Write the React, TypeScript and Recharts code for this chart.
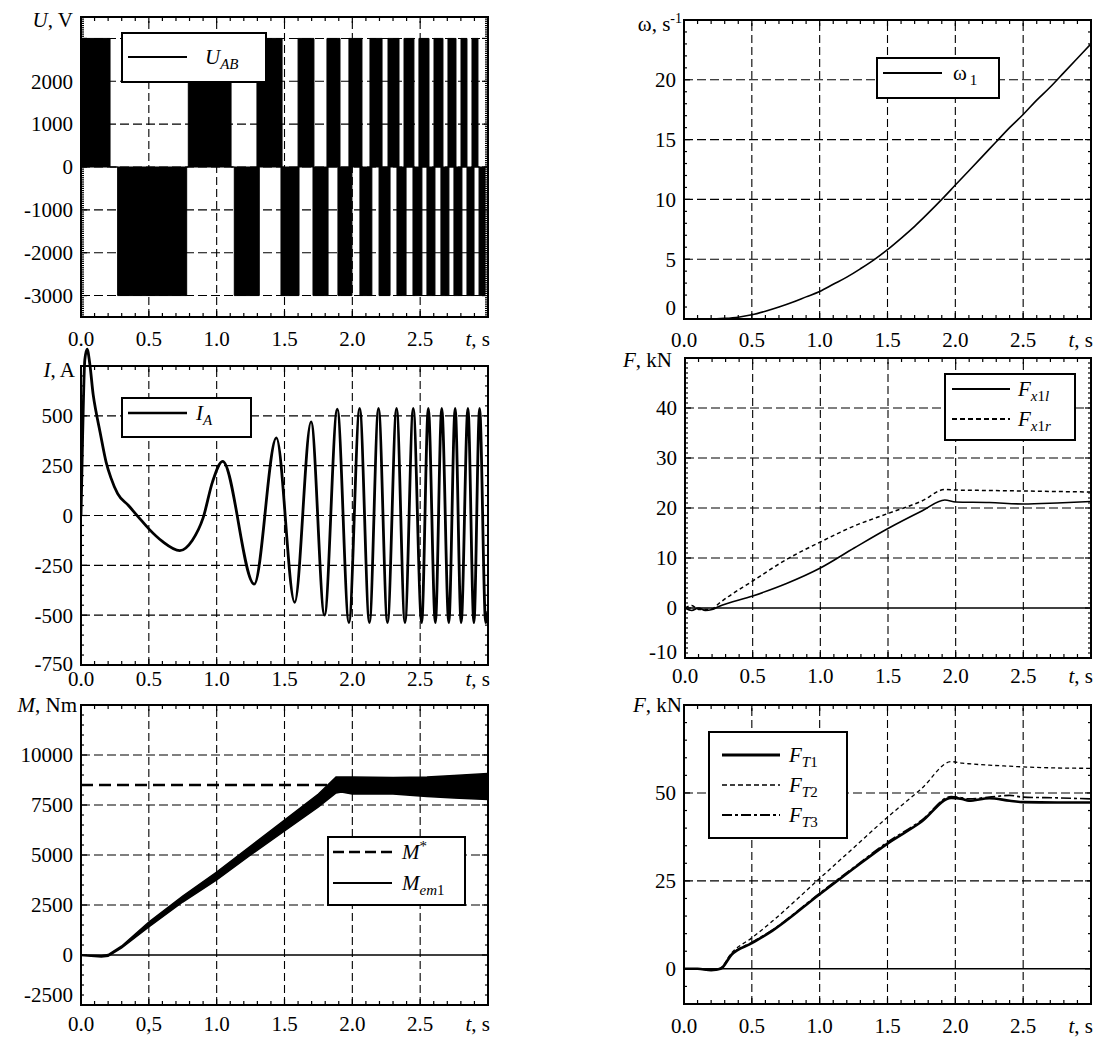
import React from "react";
import {
  ComposedChart, Line, Area, XAxis, YAxis, ReferenceLine, ReferenceArea, Legend,
} from "recharts";

const FONT = "Liberation Serif, Times New Roman, serif";
const FS = 21;
const SUB = 15;

// time axis
const xTicks = Array.from({ length: 31 }, (_, i) => i / 10);
const xGrid = [0.5, 1.0, 1.5, 2.0, 2.5];
const xLabelsDot = ["0.0", "0.5", "1.0", "1.5", "2.0", "2.5"];
const xLabelsComma = ["0.0", "0,5", "1.0", "1.5", "2.0", "2.5"];

// U_AB, switching intervals (s) at +3000 V and -3000 V
const uLevel = 3000;
const uPosBars = [
  [0, 0.214], [0.791, 1.106], [1.297, 1.482], [1.6, 1.717], [1.813, 1.909], [1.975, 2.071],
  [2.13, 2.219], [2.263, 2.344], [2.381, 2.454], [2.491, 2.565], [2.602, 2.668], [2.705, 2.764],
  [2.801, 2.845], [2.882, 2.926],
];
const uNegBars = [
  [0.27, 0.779], [1.13, 1.314], [1.474, 1.607], [1.71, 1.821], [1.894, 1.997], [2.056, 2.144],
  [2.197, 2.278], [2.329, 2.396], [2.447, 2.513], [2.55, 2.609], [2.653, 2.712], [2.749, 2.808],
  [2.845, 2.897], [2.934, 2.978],
];

// omega_1
const wT = [0, 0.2, 0.3, 0.4, 0.5, 0.6, 0.7, 0.8, 0.9, 1.0, 1.1, 1.2, 1.3, 1.4, 1.5, 1.6, 1.7, 1.8, 1.9, 2.0, 2.1, 2.2, 2.3, 2.4, 2.5, 2.6, 2.7, 2.8, 2.9, 3.0];
const wV = [0, 0, 0.05, 0.15, 0.35, 0.65, 1.0, 1.4, 1.85, 2.3, 2.9, 3.5, 4.2, 4.95, 5.8, 6.75, 7.75, 8.85, 10.0, 11.2, 12.4, 13.6, 14.8, 16.0, 17.1, 18.3, 19.4, 20.6, 21.8, 23.0];

// I_A
const iT = [0, 0.012, 0.028, 0.045, 0.065, 0.09, 0.111, 0.14, 0.185, 0.22, 0.27, 0.35, 0.43, 0.5, 0.6, 0.728, 0.82, 0.9, 0.97, 1.044,
  1.277, 1.44, 1.575, 1.696, 1.795, 1.889, 1.975, 2.054, 2.126, 2.193, 2.259, 2.326, 2.388, 2.449, 2.511, 2.56, 2.612, 2.659,
  2.711, 2.758, 2.802, 2.852, 2.896, 2.938, 2.983, 3.0];
const iV = [0, 400, 780, 835, 760, 605, 520, 420, 268, 190, 110, 50, -13, -67, -130, -176, -125, -12, 170, 272,
  -344, 389, -436, 470, -500, 533, -537, 537, -537, 537, -537, 537, -537, 537, -537, 537, -537, 537,
  -537, 537, -537, 537, -537, 537, -537, -480];

// F_x1l, F_x1r (kN)
const fxT = [0, 0.05, 0.1, 0.15, 0.2, 0.25, 0.5, 0.75, 1.0, 1.25, 1.5, 1.75, 1.92, 2.0, 2.25, 2.5, 2.75, 3.0];
const fxL = [0, -0.5, 0, -0.5, -0.3, 0.3, 2.4, 4.9, 8.0, 12.0, 15.9, 19.4, 21.6, 21.2, 21.1, 20.8, 21.0, 21.3];
const fxR = [0, 0.5, -0.3, -0.3, -0.2, 0.9, 5.4, 9.7, 13.2, 16.4, 18.9, 21.4, 23.7, 23.6, 23.5, 23.4, 23.3, 23.2];

// M_em1 envelope (Nm) and M*
const mT = [0, 0.1, 0.15, 0.2, 0.3, 0.5, 0.75, 1.0, 1.25, 1.5, 1.75, 1.88, 1.92, 2.0, 2.3, 2.55, 2.75, 3.0];
const mLow = [-30, -80, -100, -60, 350, 1400, 2650, 3750, 5000, 6200, 7400, 8100, 8150, 8050, 8050, 7920, 7850, 7780];
const mHigh = [0, -20, -40, 20, 450, 1650, 2950, 4150, 5450, 6750, 8050, 8900, 8900, 8900, 8880, 8900, 8980, 9080];
const mStar = 8500;

// F_T1, F_T2, F_T3 (kN)
const ftT = [0, 0.1, 0.2, 0.27, 0.35, 0.5, 0.65, 1.0, 1.25, 1.5, 1.75, 1.97, 2.05, 2.1, 2.25, 2.4, 2.5, 2.75, 3.0];
const ft1 = [0, 0, -0.4, 0, 4.0, 7.3, 10.8, 21.2, 28.5, 35.6, 41.8, 48.6, 48.3, 47.8, 48.5, 47.8, 47.4, 47.3, 47.3];
const ft2 = [0, 0, -0.4, 0.3, 4.5, 8.8, 13.5, 25.7, 34.4, 43.1, 51.2, 58.9, 58.5, 58.3, 57.9, 57.6, 57.4, 57.1, 57.0];
const ft3 = [0, 0, -0.4, 0, 4.1, 7.5, 11.0, 21.5, 28.8, 36.0, 42.2, 49.0, 48.6, 48.3, 48.8, 49.3, 48.8, 48.6, 48.3];

const stepRows = (bars: number[][], level: number) => {
  const rows = [{ t: 0, v: 0 }];
  bars.forEach(([a, b]) => {
    rows.push({ t: a, v: level });
    rows.push({ t: b, v: 0 });
  });
  rows.push({ t: 3, v: 0 });
  return rows;
};
const uPosData = stepRows(uPosBars, uLevel);
const uNegData = stepRows(uNegBars, -uLevel);
const wData = wT.map((t, i) => ({ t, v: wV[i] }));
const iData = iT.map((t, i) => ({ t, v: iV[i] }));
const fxData = fxT.map((t, i) => ({ t, l: fxL[i], r: fxR[i] }));
const mData = mT.map((t, i) => ({ t, band: [mLow[i], mHigh[i]] }));
const mStarData = [{ t: 0, v: mStar }, { t: 3, v: mStar }];
const ftData = ftT.map((t, i) => ({ t, a: ft1[i], b: ft2[i], c: ft3[i] }));

type Row = { y: number; label: React.ReactNode; dash?: string; sw: number };
type LegendCfg = { x: number; y: number; w: number; h: number; lx0: number; lx1: number; tx: number; rows: Row[] };

function LegendBox({ cfg }: { cfg: LegendCfg }) {
  return (
    <svg width={cfg.w} height={cfg.h} style={{ display: "block" }}>
      <rect x={1} y={1} width={cfg.w - 2} height={cfg.h - 2} fill="#fff" stroke="#000" strokeWidth={2} />
      {cfg.rows.map((r, i) => (
        <g key={i}>
          <line x1={cfg.lx0} x2={cfg.lx1} y1={r.y} y2={r.y} stroke="#000" strokeWidth={r.sw} strokeDasharray={r.dash} />
          <text x={cfg.tx} y={r.y + 7} fontFamily={FONT} fontSize={FS} fill="#000">{r.label}</text>
        </g>
      ))}
    </svg>
  );
}

type PanelProps = {
  left: number; top: number; width: number; height: number;
  frame: [number, number, number, number];
  yMin: number; yTop: number; yMax?: number; yStep: number;
  yMajor: number[]; yGrid: number[]; yLabelVals: number[]; yLabelTexts: string[];
  bottomShift?: number; zeroLine?: boolean;
  xLabels: string[]; xOff: number;
  title: React.ReactNode; titleDx: number; titleDy: number;
  legend: LegendCfg;
  children?: React.ReactNode;
};

function Panel(p: PanelProps) {
  const [fx0, fy0, fx1, fy1] = p.frame;
  const yMax = p.yMax ?? p.yTop;
  const ppu = (fy1 - fy0) / (p.yTop - p.yMin);
  const plotTop = fy0 - (yMax - p.yTop) * ppu;
  const XH = 30;
  const margin = { top: plotTop - p.top, right: p.left + p.width - fx1, bottom: p.top + p.height - fy1 - XH, left: 0 };
  const fw = fx1 - fx0;
  const fh = fy1 - fy0;
  const yTicks: number[] = [];
  for (let v = p.yMin; v <= p.yTop + 1e-9; v += p.yStep) yTicks.push(v);

  const xTick = (props: any) => {
    const { x, y, payload } = props;
    const k = Math.round(payload.value * 10);
    const major = k % 5 === 0;
    const len = major ? 6 : 4;
    const edge = k === 0 || k === 30;
    const ty = y + p.xOff;
    return (
      <g>
        {!edge && <line x1={x} x2={x} y1={y} y2={y - len} stroke="#000" strokeWidth={1.2} />}
        {!edge && <line x1={x} x2={x} y1={y - fh} y2={y - fh + len} stroke="#000" strokeWidth={1.2} />}
        {major && k < 30 && (
          <text x={x} y={ty} dy="0.35em" textAnchor="middle" fontFamily={FONT} fontSize={FS} fill="#000">{p.xLabels[k / 5]}</text>
        )}
        {k === 30 && (
          <text x={x + 2} y={ty} dy="0.35em" textAnchor="end" fontFamily={FONT} fontSize={FS} fill="#000">
            <tspan fontStyle="italic">t</tspan>, s
          </text>
        )}
      </g>
    );
  };

  const yTick = (props: any) => {
    const { x, y, payload } = props;
    const v = payload.value;
    const major = p.yMajor.includes(v);
    const len = major ? 6 : 3;
    const edge = v === p.yMin || v === p.yTop;
    const li = p.yLabelVals.indexOf(v);
    return (
      <g>
        {!edge && <line x1={x} x2={x + len} y1={y} y2={y} stroke="#000" strokeWidth={1.2} />}
        {!edge && <line x1={x + fw - len} x2={x + fw} y1={y} y2={y} stroke="#000" strokeWidth={1.2} />}
        {li >= 0 && (
          <text x={x - 8} y={y + (v === p.yMin ? p.bottomShift ?? 0 : 0)} dy="0.35em" textAnchor="end" fontFamily={FONT} fontSize={FS} fill="#000">
            {p.yLabelTexts[li]}
          </text>
        )}
        {v === p.yTop && (
          <text x={x + p.titleDx} y={y + p.titleDy} dy="0.35em" textAnchor="end" fontFamily={FONT} fontSize={FS} fill="#000">
            {p.title}
          </text>
        )}
      </g>
    );
  };

  const lg = p.legend;
  return (
    <div style={{ position: "absolute", left: p.left, top: p.top }}>
      <ComposedChart width={p.width} height={p.height} margin={margin}>
        <XAxis dataKey="t" type="number" domain={[0, 3]} ticks={xTicks} interval={0} tick={xTick}
          tickLine={false} axisLine={false} tickSize={0} tickMargin={0} height={XH} allowDataOverflow />
        <YAxis type="number" domain={[p.yMin, yMax]} ticks={yTicks} interval={0} tick={yTick}
          tickLine={false} axisLine={false} tickSize={0} tickMargin={0} width={fx0 - p.left} allowDataOverflow />
        {xGrid.map((x) => (
          <ReferenceLine key={"gx" + x} segment={[{ x, y: p.yMin }, { x, y: p.yTop }]}
            stroke="#000" strokeWidth={1.1} strokeDasharray="8 4" />
        ))}
        {p.yGrid.map((y) => (
          <ReferenceLine key={"gy" + y} segment={[{ x: 0, y }, { x: 3, y }]}
            stroke="#000" strokeWidth={1.1} strokeDasharray="9 4" />
        ))}
        {p.zeroLine && <ReferenceLine y={0} stroke="#000" strokeWidth={1.5} />}
        {p.children}
        <ReferenceArea x1={0} x2={3} y1={p.yMin} y2={p.yTop} fill="none" fillOpacity={0} stroke="#000" strokeWidth={2} />
        <Legend layout="vertical" align="center" verticalAlign="middle"
          content={() => <LegendBox cfg={lg} />}
          wrapperStyle={{ left: lg.x - p.left, top: lg.y - p.top, width: lg.w, height: lg.h }} />
      </ComposedChart>
    </div>
  );
}

const it = (s: string) => <tspan fontStyle="italic">{s}</tspan>;

export default function App() {
  return (
    <div style={{ position: "absolute", left: 0, top: 0, width: 1103, height: 1039, background: "#fff" }}>
      {/* U_AB */}
      <Panel left={0} top={0} width={500} height={360} frame={[81, 17, 488, 317]}
        yMin={-3500} yTop={3500} yStep={50}
        yMajor={[-3000, -2000, -1000, 0, 1000, 2000, 3000]}
        yGrid={[-3000, -2000, -1000, 0, 1000, 2000, 3000]}
        yLabelVals={[-3000, -2000, -1000, 0, 1000, 2000]}
        yLabelTexts={["-3000", "-2000", "-1000", "0", "1000", "2000"]}
        xLabels={xLabelsDot} xOff={22}
        title={<>{it("U")}, V</>} titleDx={-8} titleDy={3}
        legend={{ x: 121, y: 32, w: 146, h: 51, lx0: 7, lx1: 66, tx: 84,
          rows: [{ y: 25, sw: 2, label: <>{it("U")}<tspan fontStyle="italic" fontSize={SUB} dy={5}>AB</tspan></> }] }}>
        <Area data={uPosData} dataKey="v" type="stepAfter" baseValue={0} stroke="#000" strokeWidth={1} fill="#000"
          fillOpacity={1} dot={false} activeDot={false} isAnimationActive={false} />
        <Area data={uNegData} dataKey="v" type="stepAfter" baseValue={0} stroke="#000" strokeWidth={1} fill="#000"
          fillOpacity={1} dot={false} activeDot={false} isAnimationActive={false} />
      </Panel>

      {/* omega */}
      <Panel left={560} top={0} width={543} height={360} frame={[684, 20, 1091, 319]}
        yMin={0} yTop={25} yStep={1}
        yMajor={[0, 5, 10, 15, 20]} yGrid={[5, 10, 15, 20]}
        yLabelVals={[0, 5, 10, 15, 20]} yLabelTexts={["0", "5", "10", "15", "20"]} bottomShift={-11}
        xLabels={xLabelsDot} xOff={21}
        title={<>ω, s<tspan fontSize={14} dy={-8}>-1</tspan></>} titleDx={-2} titleDy={4}
        legend={{ x: 876, y: 57, w: 124, h: 42, lx0: 7, lx1: 66, tx: 77,
          rows: [{ y: 16, sw: 2, label: <>ω<tspan fontSize={SUB} dy={5} dx={3}>1</tspan></> }] }}>
        <Line data={wData} dataKey="v" type="monotone" stroke="#000" strokeWidth={1.6} dot={false} activeDot={false}
          isAnimationActive={false} />
      </Panel>

      {/* I_A */}
      <Panel left={0} top={335} width={500} height={365} frame={[81, 366, 488, 665]}
        yMin={-750} yTop={750} yMax={850} yStep={50}
        yMajor={[-750, -500, -250, 0, 250, 500, 750]} yGrid={[-500, -250, 0, 250, 500]}
        yLabelVals={[-750, -500, -250, 0, 250, 500]}
        yLabelTexts={["-750", "-500", "-250", "0", "250", "500"]} bottomShift={-1}
        xLabels={xLabelsDot} xOff={14}
        title={<>{it("I")}, A</>} titleDx={-6} titleDy={4}
        legend={{ x: 121, y: 397, w: 131, h: 41, lx0: 7, lx1: 66, tx: 75,
          rows: [{ y: 16, sw: 2.5, label: <>{it("I")}<tspan fontStyle="italic" fontSize={SUB} dy={5}>A</tspan></> }] }}>
        <Line data={iData} dataKey="v" type="monotone" stroke="#000" strokeWidth={2.8} dot={false} activeDot={false}
          isAnimationActive={false} />
      </Panel>

      {/* F_x1 */}
      <Panel left={560} top={335} width={543} height={365} frame={[685, 358, 1091, 658]}
        yMin={-10} yTop={50} yStep={1}
        yMajor={[-10, 0, 10, 20, 30, 40, 50]} yGrid={[10, 20, 30, 40]}
        yLabelVals={[-10, 0, 10, 20, 30, 40]} yLabelTexts={["-10", "0", "10", "20", "30", "40"]} bottomShift={-6}
        zeroLine xLabels={xLabelsDot} xOff={18}
        title={<>{it("F")}, kN</>} titleDx={-13} titleDy={2}
        legend={{ x: 944, y: 373, w: 132, h: 68, lx0: 8, lx1: 66, tx: 74,
          rows: [
            { y: 16, sw: 2, label: <>{it("F")}<tspan fontSize={SUB} dy={5}><tspan fontStyle="italic">x</tspan>1<tspan fontStyle="italic">l</tspan></tspan></> },
            { y: 46, sw: 2, dash: "5 3", label: <>{it("F")}<tspan fontSize={SUB} dy={5}><tspan fontStyle="italic">x</tspan>1<tspan fontStyle="italic">r</tspan></tspan></> },
          ] }}>
        <Line data={fxData} dataKey="r" type="monotone" stroke="#000" strokeWidth={1.5} strokeDasharray="4 3" dot={false}
          activeDot={false} isAnimationActive={false} />
        <Line data={fxData} dataKey="l" type="monotone" stroke="#000" strokeWidth={1.6} dot={false} activeDot={false}
          isAnimationActive={false} />
      </Panel>

      {/* M */}
      <Panel left={0} top={690} width={500} height={349} frame={[81, 705, 488, 1005]}
        yMin={-2500} yTop={12500} yStep={500}
        yMajor={[-2500, 0, 2500, 5000, 7500, 10000, 12500]} yGrid={[2500, 5000, 7500, 10000]}
        yLabelVals={[-2500, 0, 2500, 5000, 7500, 10000]}
        yLabelTexts={["-2500", "0", "2500", "5000", "7500", "10000"]} bottomShift={-10}
        zeroLine xLabels={xLabelsComma} xOff={19}
        title={<>{it("M")}, Nm</>} titleDx={-4} titleDy={0}
        legend={{ x: 327, y: 836, w: 139, h: 70, lx0: 6, lx1: 65, tx: 75,
          rows: [
            { y: 16, sw: 2.5, dash: "11 5", label: <>{it("M")}<tspan fontSize={SUB} dy={-8}>*</tspan></> },
            { y: 47, sw: 2, label: <>{it("M")}<tspan fontSize={SUB} dy={5}><tspan fontStyle="italic">em</tspan>1</tspan></> },
          ] }}>
        <Line data={mStarData} dataKey="v" type="linear" stroke="#000" strokeWidth={2.4} strokeDasharray="12 6" dot={false}
          activeDot={false} isAnimationActive={false} />
        <Area data={mData} dataKey="band" type="linear" stroke="#000" strokeWidth={1.5} fill="#000" fillOpacity={1}
          dot={false} activeDot={false} isAnimationActive={false} />
      </Panel>

      {/* F_T */}
      <Panel left={560} top={690} width={543} height={349} frame={[684, 705, 1091, 1004]}
        yMin={-10} yTop={75} yStep={5}
        yMajor={[0, 25, 50]} yGrid={[25, 50]}
        yLabelVals={[0, 25, 50]} yLabelTexts={["0", "25", "50"]}
        zeroLine xLabels={xLabelsDot} xOff={22}
        title={<>{it("F")}, kN</>} titleDx={-2} titleDy={0}
        legend={{ x: 708, y: 731, w: 140, h: 108, lx0: 14, lx1: 72, tx: 81,
          rows: [
            { y: 24, sw: 3, label: <>{it("F")}<tspan fontSize={SUB} dy={5}><tspan fontStyle="italic">T</tspan>1</tspan></> },
            { y: 54, sw: 1.5, dash: "5 3", label: <>{it("F")}<tspan fontSize={SUB} dy={5}><tspan fontStyle="italic">T</tspan>2</tspan></> },
            { y: 84, sw: 2, dash: "10 3 3 3", label: <>{it("F")}<tspan fontSize={SUB} dy={5}><tspan fontStyle="italic">T</tspan>3</tspan></> },
          ] }}>
        <Line data={ftData} dataKey="b" type="monotone" stroke="#000" strokeWidth={1.3} strokeDasharray="4 3" dot={false}
          activeDot={false} isAnimationActive={false} />
        <Line data={ftData} dataKey="c" type="monotone" stroke="#000" strokeWidth={1.6} strokeDasharray="10 3 3 3" dot={false}
          activeDot={false} isAnimationActive={false} />
        <Line data={ftData} dataKey="a" type="monotone" stroke="#000" strokeWidth={2.6} dot={false} activeDot={false}
          isAnimationActive={false} />
      </Panel>
    </div>
  );
}
